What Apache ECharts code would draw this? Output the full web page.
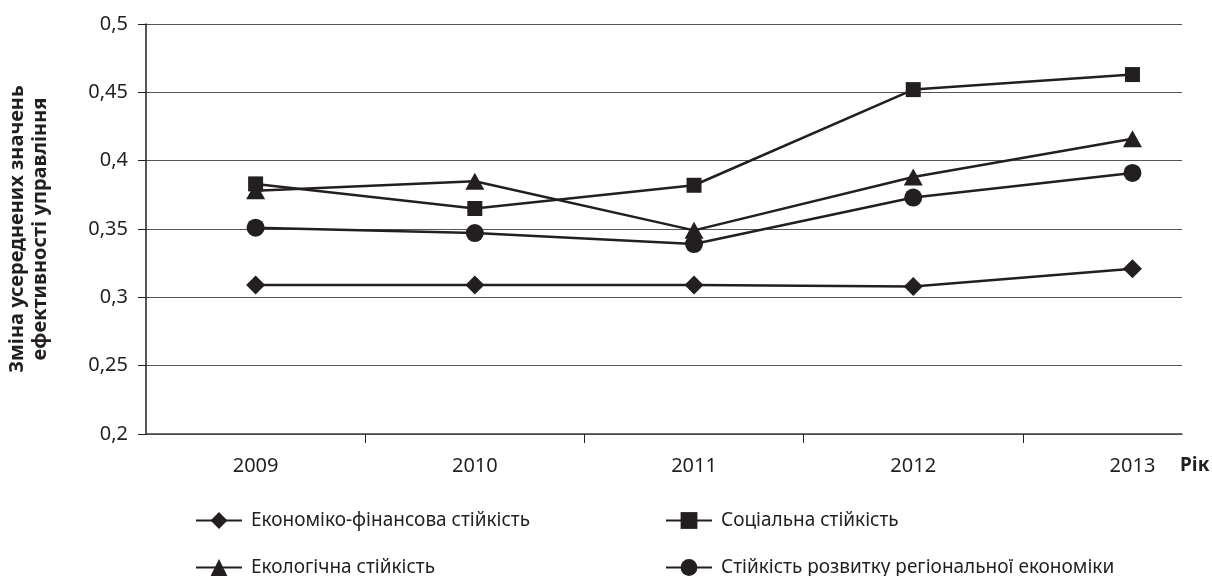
<!DOCTYPE html>
<html>
<head>
<meta charset="utf-8">
<script src="https://cdn.jsdelivr.net/npm/echarts@6/dist/echarts.min.js"></script>
<style>
  html, body { margin: 0; padding: 0; background: #fff; }
  #chart { width: 1212px; height: 576px; }
</style>
</head>
<body>
<div id="chart"></div>
<script>
// Years on the category axis
const years = [2009, 2010, 2011, 2012, 2013];

// Series names
const nameEcon = 'Економіко-фінансова стійкість';
const nameSocial = 'Соціальна стійкість';
const nameEco = 'Екологічна стійкість';
const nameRegional = 'Стійкість розвитку регіональної економіки';

// Averaged management efficiency values per year
const econValues = [0.309, 0.309, 0.309, 0.308, 0.321];
const socialValues = [0.383, 0.365, 0.382, 0.452, 0.463];
const ecoValues = [0.378, 0.385, 0.349, 0.388, 0.416];
const regionalValues = [0.351, 0.347, 0.339, 0.373, 0.391];

// Y axis ticks
const yTicks = [0.2, 0.25, 0.3, 0.35, 0.4, 0.45, 0.5];

const ink = '#231f20';
const font = 'Noto Sans';

const pairs = vals => years.map((y, i) => [y, vals[i]]);

function lineSeries(name, vals, symbol, size) {
  return {
    name: name,
    type: 'line',
    data: pairs(vals),
    symbol: symbol,
    symbolSize: size,
    showSymbol: true,
    lineStyle: { color: ink, width: 2.5 },
    itemStyle: { color: ink, borderWidth: 0 },
    emphasis: { disabled: true },
    z: 3
  };
}

// One legend entry per block so the two-column layout is explicit
function legendItem(name, left, top) {
  return {
    left: left, top: top,
    orient: 'horizontal',
    itemWidth: 46, itemHeight: 21,
    data: [name],
    textStyle: { fontFamily: font, fontSize: 19, color: ink, padding: [0, 0, 0, 4] },
    selectedMode: false
  };
}

const chart = echarts.init(document.getElementById('chart'), null, { renderer: 'canvas' });

chart.setOption({
  animation: false,
  backgroundColor: '#ffffff',
  textStyle: { fontFamily: font, color: ink },
  grid: { left: 146, right: 30, top: 24, bottom: 142, containLabel: false, outerBoundsMode: 'none' },
  xAxis: {
    type: 'value',
    min: years[0] - 0.5,
    max: 2013.226,
    name: 'Рік',
    nameLocation: 'end',
    nameGap: -2,
    nameTextStyle: {
      fontFamily: font, fontSize: 19, fontWeight: 'bold', color: ink,
      verticalAlign: 'top', align: 'left', padding: [22, 0, 0, 0]
    },
    axisLine: { show: true, lineStyle: { color: '#444', width: 1.5 } },
    axisTick: {
      show: true, length: 9, inside: false,
      customValues: years.slice(0, -1).map(y => y + 0.5),
      lineStyle: { color: ink, width: 1 }
    },
    axisLabel: {
      customValues: years,
      formatter: v => String(v),
      margin: 22,
      fontFamily: font, fontSize: 20, color: ink
    },
    splitLine: { show: false }
  },
  yAxis: {
    type: 'value',
    min: yTicks[0],
    max: yTicks[yTicks.length - 1],
    interval: 0.05,
    name: 'Зміна усереднених значень\nефективності управління',
    nameLocation: 'middle',
    nameGap: 94,
    nameRotate: 90,
    nameTextStyle: {
      fontFamily: font, fontSize: 20, fontWeight: 'bold', color: ink, lineHeight: 23
    },
    axisLine: { show: true, lineStyle: { color: ink, width: 1.5 } },
    axisTick: { show: true, length: 8, inside: false, lineStyle: { color: ink, width: 1 } },
    axisLabel: {
      margin: 18,
      fontFamily: font, fontSize: 20, color: ink,
      formatter: v => String(+v.toFixed(2)).replace('.', ',')
    },
    splitLine: { show: true, lineStyle: { color: '#555', width: 1.2 } }
  },
  legend: [
    legendItem(nameEcon, 190, 506),
    legendItem(nameEco, 190, 553),
    legendItem(nameSocial, 660, 506),
    legendItem(nameRegional, 660, 553)
  ],
  series: [
    lineSeries(nameEcon, econValues, 'diamond', [19, 19]),
    lineSeries(nameSocial, socialValues, 'rect', [15, 15]),
    lineSeries(nameEco, ecoValues, 'triangle', [19, 17]),
    lineSeries(nameRegional, regionalValues, 'circle', 18)
  ]
});
</script>
</body>
</html>
